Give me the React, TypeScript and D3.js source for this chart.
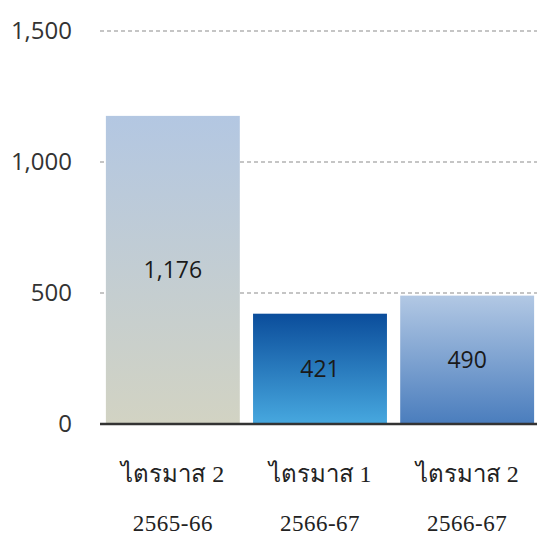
import React from "react";
import * as d3 from "d3";

const quarters = ["ไตรมาส 2", "ไตรมาส 1", "ไตรมาส 2"];
const years = ["2565-66", "2566-67", "2566-67"];
const values = [1176, 421, 490];
const yTicks = [0, 500, 1000, 1500];
const gradients = [
  ["#b3c7e2", "#d2d3c3"],
  ["#0b4d9b", "#47a8df"],
  ["#b2c8e4", "#4a7dbd"],
];

function App() {
  const width = 537;
  const height = 536;
  const keys = values.map((_, i) => String(i));

  const x = d3.scaleBand<string>()
    .domain(keys)
    .range([100, 540])
    .paddingInner(0.09)
    .paddingOuter(0.04);
  const y = d3.scaleLinear().domain([0, 1500]).range([424, 31]);
  const fmt = d3.format(",");
  const sans = "'Open Sans', 'Liberation Sans', sans-serif";

  return (
    <svg width={width} height={height} style={{ position: "absolute", left: 0, top: 0, background: "#fff" }}>
      <defs>
        {gradients.map((g, i) => (
          <linearGradient key={i} id={"grad" + i} x1="0" y1="0" x2="0" y2="1">
            <stop offset="0%" stopColor={g[0]} />
            <stop offset="100%" stopColor={g[1]} />
          </linearGradient>
        ))}
      </defs>
      {/* grid */}
      {yTicks.filter(t => t > 0).map(t => (
        <line key={t} x1={100} x2={width} y1={y(t)} y2={y(t)}
          stroke="#8c8c8c" strokeWidth={1.2} strokeDasharray="4,3" />
      ))}
      {yTicks.map(t => (
        <text key={t} x={72} y={y(t)} dy="0.35em" textAnchor="end"
          fontFamily={sans} fontSize={24} fill="#333">
          {fmt(t)}
        </text>
      ))}
      {/* bars */}
      {values.map((v, i) => (
        <g key={i}>
          <rect x={x(keys[i])} y={y(v)} width={x.bandwidth()} height={y(0) - y(v)}
            fill={`url(#grad${i})`} />
          <text x={(x(keys[i]) ?? 0) + x.bandwidth() / 2} y={(y(v) + y(0)) / 2} dy="0.35em"
            textAnchor="middle" fontFamily={sans} fontWeight={500}
            fontSize={23} fill="#1a1a1a">
            {fmt(v)}
          </text>
        </g>
      ))}
      <line x1={100} x2={width} y1={y(0)} y2={y(0)} stroke="#333" strokeWidth={2.5} />
      {/* category labels */}
      {keys.map((k, i) => (
        <g key={k}>
          <text x={(x(k) ?? 0) + x.bandwidth() / 2} y={474} dy="0.35em" textAnchor="middle"
            fontFamily="'Liberation Serif', serif" fontSize={24} fill="#222">
            {quarters[i]}
          </text>
          <text x={(x(k) ?? 0) + x.bandwidth() / 2} y={523} dy="0.35em" textAnchor="middle"
            fontFamily="'Liberation Serif', serif" fontSize={23} letterSpacing={0.5} fill="#222">
            {years[i]}
          </text>
        </g>
      ))}
    </svg>
  );
}

export default App;
